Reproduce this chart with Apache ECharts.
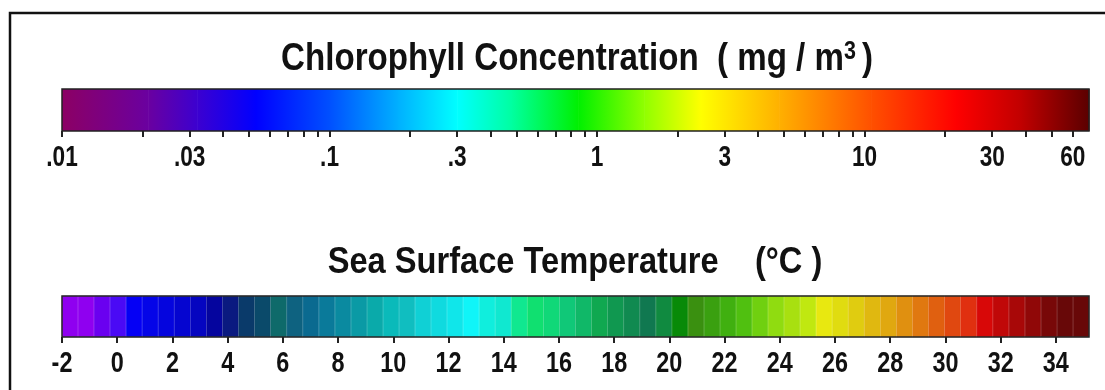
<!DOCTYPE html>
<html>
<head>
<meta charset="utf-8">
<script src="https://cdn.jsdelivr.net/npm/echarts@6/dist/echarts.min.js"></script>
<style>
  html, body { margin: 0; padding: 0; background: #fff; }
  #chart { width: 1105px; height: 390px; }
</style>
</head>
<body>
<div id="chart"></div>
<script>
// chlorophyll colour ramp (mg/m3 -> colour), log axis
const chlStops = [0.01, 0.021, 0.032, 0.053, 0.1, 0.18, 0.3, 0.48, 0.85, 1.5, 2.44, 4.8, 10.6, 21.9, 38.6, 69]
const chlColors = ['#8c0064', '#6a00a0', '#3c00d0', '#0000ff', '#0050ff', '#00b0ff', '#00ffff', '#00ffa0',
  '#00f000', '#90ff00', '#ffff00', '#ffb000', '#ff5000', '#ff0000', '#c00000', '#5a0000']
const chlTicks = [0.01, 0.02, 0.03, 0.04, 0.05, 0.06, 0.07, 0.08, 0.09,
  0.1, 0.2, 0.3, 0.4, 0.5, 0.6, 0.7, 0.8, 0.9,
  1, 2, 3, 4, 5, 6, 7, 8, 9,
  10, 20, 30, 40, 50, 60]
const chlLabelValues = [0.01, 0.03, 0.1, 0.3, 1, 3, 10, 30, 60]
const chlLabels = ['.01', '.03', '.1', '.3', '1', '3', '10', '30', '60']
const chlMin = 0.01
const chlMax = 69

// sea surface temperature palette (degC), 64 steps
const sstMin = -2
const sstMax = 35.2
const sstTicks = [-2, 0, 2, 4, 6, 8, 10, 12, 14, 16, 18, 20, 22, 24, 26, 28, 30, 32, 34]
const sstColors = [
  '#8f00f0', '#8f00f0', '#6a00f0', '#4a0af5', '#0500f5', '#0505e8', '#0505de', '#0505d0',
  '#0505c0', '#05059e', '#0a1a80', '#0a3a6a', '#0a4a6a', '#0e6a6a', '#0e6280', '#0a6a90',
  '#0a7a9a', '#0a8aa0', '#0a9aa5', '#0aaaaa', '#0ababa', '#10bec0', '#10d0d5', '#10dadf',
  '#10e6ea', '#10f5f8', '#10eedd', '#10e8d0', '#10e890', '#10e070', '#10d878', '#10c878',
  '#10b868', '#10a850', '#109850', '#108a50', '#107850', '#108a40', '#088a08', '#3a9010',
  '#3aa010', '#40b010', '#50c010', '#70d010', '#90dc10', '#a8e010', '#c0e810', '#e8e810',
  '#e0dc10', '#e0cc10', '#e0b810', '#e0a810', '#e09010', '#e07810', '#e06010', '#e04810',
  '#e03010', '#d80808', '#c00808', '#a80808', '#900808', '#780808', '#680808', '#680808'
]

// narrow helvetica look: liberation sans squeezed horizontally
const FONT = '"Liberation Sans", Arial, sans-serif'
const SQUEEZE = 0.78

const chart = echarts.init(document.getElementById('chart'), null, { renderer: 'canvas' })

const chlSegments = []
for (let i = 0; i < chlStops.length - 1; i++) {
  chlSegments.push([Math.log10(chlStops[i]), Math.log10(chlStops[i + 1]), i])
}

const tickStyle = { length: 6, lineStyle: { color: '#222', width: 2 } }

// tick labels placed through the axis scale, drawn condensed
function labelSeries(xIdx, yIdx, data, texts, size) {
  return {
    type: 'custom', xAxisIndex: xIdx, yAxisIndex: yIdx, clip: false, z: 6,
    data: data.map((v, i) => [v, i]),
    renderItem: (params, api) => {
      const p = api.coord([api.value(0), 0])
      return {
        type: 'text', x: p[0], y: p[1] + 27, scaleX: SQUEEZE,
        style: {
          text: texts[api.value(1)],
          fontFamily: FONT, fontWeight: 'bold', fontSize: size,
          fill: '#111', align: 'center', verticalAlign: 'middle'
        }
      }
    }
  }
}

const option = {
  animation: false,
  backgroundColor: '#fff',
  grid: [
    { left: 62, right: 16, top: 89, height: 42, show: true, z: 5, borderColor: '#222', borderWidth: 1.5, backgroundColor: 'transparent' },
    { left: 62, right: 16, top: 296, height: 41, show: true, z: 5, borderColor: '#222', borderWidth: 1.5, backgroundColor: 'transparent' }
  ],
  xAxis: [
    {
      type: 'value', gridIndex: 0, position: 'bottom',
      min: Math.log10(chlMin), max: Math.log10(chlMax),
      axisLine: { show: false }, splitLine: { show: false },
      axisTick: Object.assign({ customValues: chlTicks.map(v => Math.log10(v)) }, tickStyle),
      axisLabel: { show: false }
    },
    {
      type: 'value', gridIndex: 1, position: 'bottom',
      min: sstMin, max: sstMax,
      axisLine: { show: false }, splitLine: { show: false },
      axisTick: Object.assign({ customValues: sstTicks }, tickStyle),
      axisLabel: { show: false }
    },
    {
      type: 'category', gridIndex: 1, position: 'top', show: false,
      data: sstColors.map((c, i) => i)
    }
  ],
  yAxis: [
    { type: 'value', gridIndex: 0, min: 0, max: 1, show: false },
    { type: 'value', gridIndex: 1, min: 0, max: 1, show: false }
  ],
  series: [
    {
      type: 'custom',
      xAxisIndex: 0, yAxisIndex: 0,
      data: chlSegments,
      renderItem: (params, api) => {
        const i = api.value(2)
        const p0 = api.coord([api.value(0), 0])
        const p1 = api.coord([api.value(1), 1])
        return {
          type: 'rect',
          shape: { x: p0[0], y: p1[1], width: p1[0] - p0[0] + 0.6, height: p0[1] - p1[1] },
          style: {
            fill: new echarts.graphic.LinearGradient(0, 0, 1, 0, [
              { offset: 0, color: chlColors[i] },
              { offset: 1, color: chlColors[i + 1] }
            ])
          }
        }
      }
    },
    {
      type: 'bar',
      xAxisIndex: 2, yAxisIndex: 1,
      barWidth: '100%',
      data: sstColors.map(c => ({ value: 1, itemStyle: { color: c, borderColor: c, borderWidth: 0.8 } }))
    },
    labelSeries(0, 0, chlLabelValues.map(v => Math.log10(v)), chlLabels, 29),
    labelSeries(1, 1, sstTicks, sstTicks.map(String), 30)
  ],
  graphic: [
    {
      type: 'rect', silent: true,
      shape: { x: 10, y: 13, width: 1200, height: 500 },
      style: { fill: 'none', stroke: '#111', lineWidth: 2.5 }
    },
    {
      type: 'text', x: 577, y: 59.5, scaleX: 0.86,
      style: {
        text: 'Chlorophyll Concentration  ( mg / m{sup|3 })',
        fontFamily: FONT, fontWeight: 'bold', fontSize: 38.5,
        fill: '#111', align: 'center', verticalAlign: 'middle',
        rich: {
          sup: { fontFamily: FONT, fontWeight: 'bold', fontSize: 25, fill: '#111', verticalAlign: 'top' }
        }
      }
    },
    {
      type: 'text', x: 575, y: 262.5, scaleX: 0.87,
      style: {
        text: 'Sea Surface Temperature    (°C )',
        fontFamily: FONT, fontWeight: 'bold', fontSize: 37.5,
        fill: '#111', align: 'center', verticalAlign: 'middle'
      }
    }
  ]
}

chart.setOption(option)
</script>
</body>
</html>
